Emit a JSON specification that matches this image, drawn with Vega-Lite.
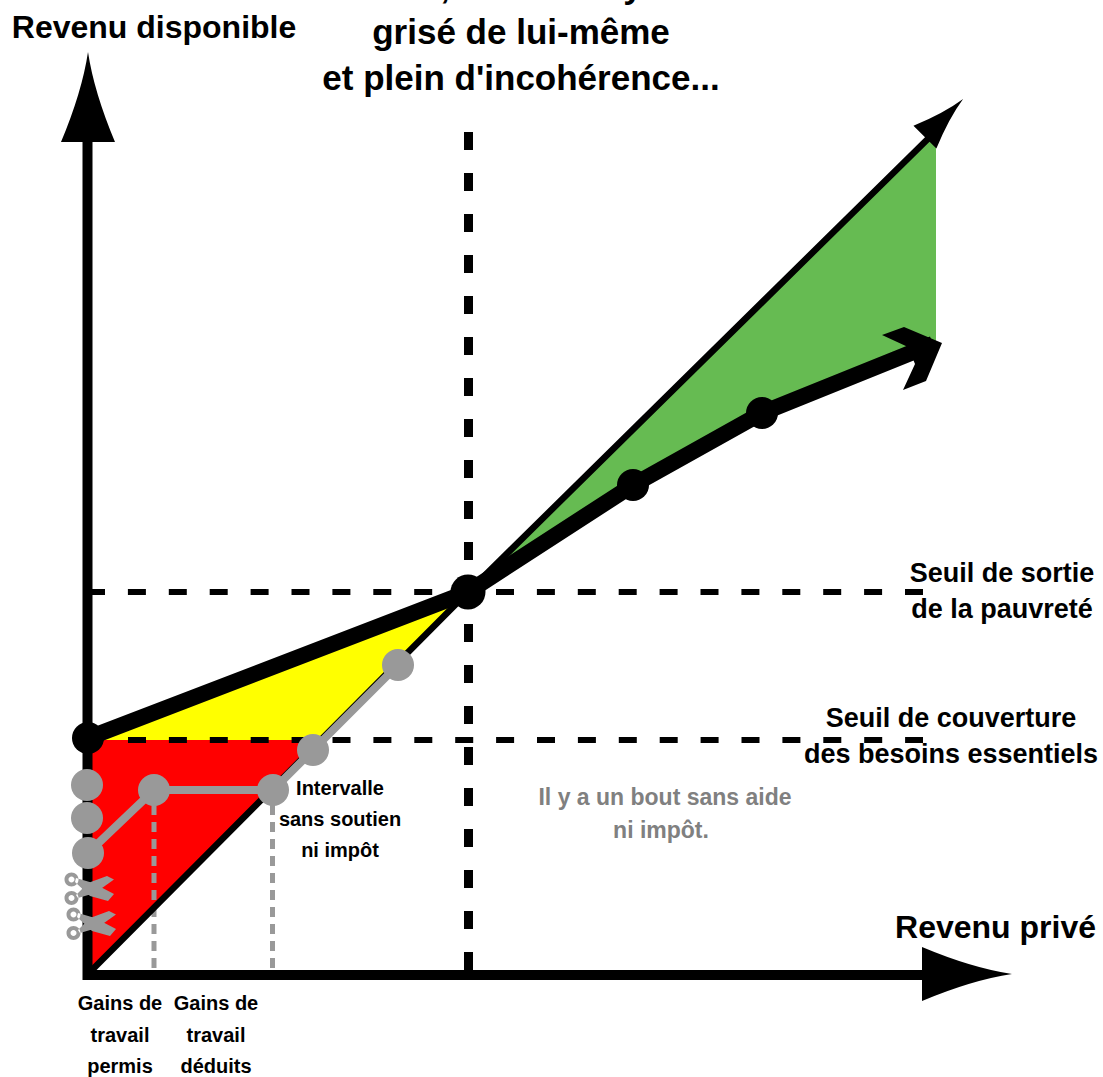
{
"$schema":"https://vega.github.io/schema/vega-lite/v6.json",
"width":1103,"height":1077,"padding":0,
"autosize":{"type":"none"},
"background":"white",
"config":{"view":{"stroke":null}},
"encoding":{
"x":{"field":"x","type":"quantitative","axis":null,"scale":{"domain":[-88,1015],"nice":false,"zero":false}},
"y":{"field":"y","type":"quantitative","axis":null,"scale":{"domain":[-105,972],"nice":false,"zero":false}}
},
"layer":[
{"data":{"values":[{"x":4,"y":232,"y2":2},{"x":235,"y":232,"y2":232}]},"mark":{"type":"area","color":"#ff0000"},"encoding":{"y2":{"field":"y2"}}},
{"data":{"values":[{"x":0,"y":234,"y2":232},{"x":232,"y":323,"y2":232},{"x":380,"y":380,"y2":380}]},"mark":{"type":"area","color":"#ffff00"},"encoding":{"y2":{"field":"y2"}}},
{"data":{"values":[{"x":380,"y":380,"y2":380},{"x":545,"y":542,"y2":487},{"x":674,"y":670,"y2":559},{"x":848,"y":841,"y2":627}]},"mark":{"type":"area","color":"#66bb52"},"encoding":{"y2":{"field":"y2"}}},
{"data":{"values":[{"x":66,"y":184,"g":"a"},{"x":66,"y":2,"g":"a"},{"x":184.5,"y":184,"g":"b"},{"x":184.5,"y":2,"g":"b"}]},"mark":{"type":"line","color":"#999999","strokeWidth":5,"strokeDash":[10,7]},"encoding":{"detail":{"field":"g"},"order":{"field":"y","sort":"descending"}}},
{"data":{"values":[{"x":-1,"y":380,"g":"sortie"},{"x":835,"y":380,"g":"sortie"},{"x":40,"y":232,"g":"couverture"},{"x":835,"y":232,"g":"couverture"}]},"mark":{"type":"line","color":"black","strokeWidth":6,"strokeDash":[18,22.9]},"encoding":{"detail":{"field":"g"}}},
{"data":{"values":[{"x":380.5,"y":840},{"x":380.5,"y":-3}]},"mark":{"type":"line","color":"black","strokeWidth":9,"strokeDash":[18,23]},"encoding":{"order":{"field":"y","sort":"descending"}}},
{"data":{"values":[{"x":4,"y":2,"o":1},{"x":380,"y":380,"o":2},{"x":855,"y":848,"o":3}]},"mark":{"type":"line","color":"black","strokeWidth":6.5},"encoding":{"order":{"field":"o"}}},
{"data":{"values":[{"x":-0.5,"y":-8,"g":"v"},{"x":-0.5,"y":835,"g":"v"},{"x":-1,"y":-3,"g":"h"},{"x":845,"y":-3,"g":"h"}]},"mark":{"type":"line","color":"black","strokeWidth":10},"encoding":{"detail":{"field":"g"},"order":{"field":"x"}}},
{"data":{"values":[{"x":0,"y":234},{"x":380,"y":380},{"x":545,"y":487},{"x":674,"y":559},{"x":845,"y":628}]},"mark":{"type":"line","color":"black","strokeWidth":16}},
{"data":{"values":[{"x":0,"y":119},{"x":66,"y":182},{"x":185,"y":182},{"x":225,"y":222},{"x":310,"y":307}]},"mark":{"type":"line","color":"#999999","strokeWidth":8}},
{"data":{"values":[{"x":0,"y":234},{"x":545,"y":487},{"x":674,"y":559}]},"mark":{"type":"circle","color":"black","opacity":1,"size":1024}},
{"data":{"values":[{"x":380,"y":380}]},"mark":{"type":"circle","color":"black","opacity":1,"size":1225}},
{"data":{"values":[{"x":-1,"y":187},{"x":-1,"y":154},{"x":0,"y":119},{"x":66,"y":182},{"x":185,"y":182},{"x":225,"y":222},{"x":310,"y":307}]},"mark":{"type":"circle","color":"#999999","opacity":1,"size":1024}},
{"data":{"values":[{"x":0,"y":875}]},"mark":{"type":"point","filled":true,"color":"black","opacity":1,"size":10000,"shape":"M0,-0.9Q0.12,-0.1 0.54,0.9L-0.54,0.9Q-0.12,-0.1 0,-0.9Z"}},
{"data":{"values":[{"x":879,"y":-2}]},"mark":{"type":"point","filled":true,"color":"black","opacity":1,"size":10000,"angle":90,"shape":"M0,-0.9Q0.12,-0.1 0.54,0.9L-0.54,0.9Q-0.12,-0.1 0,-0.9Z"}},
{"data":{"values":[{"x":856,"y":854}]},"mark":{"type":"point","filled":true,"color":"black","opacity":1,"size":3600,"angle":45,"shape":"M0,-0.9Q0.12,-0.1 0.54,0.9L-0.54,0.9Q-0.12,-0.1 0,-0.9Z"}},
{"data":{"values":[{"x":854,"y":629}]},"mark":{"type":"point","filled":true,"color":"black","opacity":1,"size":10000,"shape":"M0,0L-0.76,-0.32L-1.2,-0.16L-0.68,0.08L-0.54,0.42L-0.78,0.94L-0.32,0.76Z"}},
{"data":{"values":[{"x":-3,"y":84},{"x":-1,"y":49}]},"mark":{"type":"point","filled":true,"color":"#999999","opacity":1,"size":10000,"shape":"M-0.18,0.14L0.06,-0.1L0.44,-0.24L0.58,-0.17L0.2,0.1L-0.14,0.2ZM-0.18,-0.2L0.16,-0.1L0.58,0.12L0.46,0.26L0.1,0.16L-0.2,-0.12ZM-0.41,-0.17a0.14,0.14 0 1,0 0.28,0a0.14,0.14 0 1,0 -0.28,0zM-0.33,-0.17a0.06,0.06 0 1,1 0.12,0a0.06,0.06 0 1,1 -0.12,0zM-0.41,0.2a0.14,0.14 0 1,0 0.28,0a0.14,0.14 0 1,0 -0.28,0zM-0.33,0.2a0.06,0.06 0 1,1 0.12,0a0.06,0.06 0 1,1 -0.12,0z"}},
{"data":{"values":[{"x":433,"y":928,"t":"grisé de lui-même"},{"x":433,"y":882,"t":"et plein d'incohérence..."},{"x":357,"y":974,"t":","},{"x":545,"y":974,"t":"y"}]},"mark":{"type":"text","font":"Liberation Sans","fontWeight":"bold","fontSize":35,"baseline":"alphabetic","align":"center","color":"black"},"encoding":{"text":{"field":"t"}}},
{"data":{"values":[{"x":66,"y":934,"t":"Revenu disponible"},{"x":907.5,"y":34,"t":"Revenu privé"}]},"mark":{"type":"text","font":"Liberation Sans","fontWeight":"bold","fontSize":32,"baseline":"alphabetic","align":"center","color":"black"},"encoding":{"text":{"field":"t"}}},
{"data":{"values":[{"x":914,"y":390,"t":"Seuil de sortie"},{"x":914,"y":354,"t":"de la pauvreté"},{"x":863,"y":245,"t":"Seuil de couverture"},{"x":863,"y":209,"t":"des besoins essentiels"}]},"mark":{"type":"text","font":"Liberation Sans","fontWeight":"bold","fontSize":27,"baseline":"alphabetic","align":"center","color":"black"},"encoding":{"text":{"field":"t"}}},
{"data":{"values":[{"x":252,"y":177,"t":"Intervalle"},{"x":252,"y":146,"t":"sans soutien"},{"x":252,"y":115,"t":"ni impôt"},{"x":32,"y":-38,"t":"Gains de"},{"x":32,"y":-70,"t":"travail"},{"x":32,"y":-101,"t":"permis"},{"x":128,"y":-38,"t":"Gains de"},{"x":128,"y":-70,"t":"travail"},{"x":128,"y":-101,"t":"déduits"}]},"mark":{"type":"text","font":"Liberation Sans","fontWeight":"bold","fontSize":20,"baseline":"alphabetic","align":"center","color":"black"},"encoding":{"text":{"field":"t"}}},
{"data":{"values":[{"x":577,"y":167,"t":"Il y a un bout sans aide"},{"x":573,"y":134,"t":"ni impôt."}]},"mark":{"type":"text","font":"Liberation Sans","fontWeight":"bold","fontSize":23,"baseline":"alphabetic","align":"center","color":"#808080"},"encoding":{"text":{"field":"t"}}}
]
}
